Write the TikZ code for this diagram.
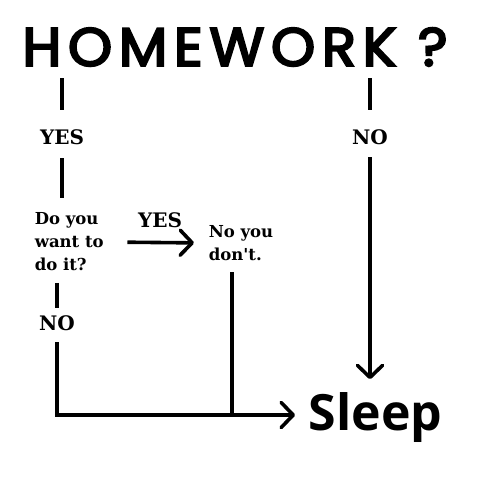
\documentclass[tikz,border=0pt]{standalone}
\usepackage{fontspec}
\usepackage{graphicx}
\usetikzlibrary{arrows.meta}
\newfontfamily\qfont{DejaVu Serif}
\newfontfamily\sleepfont{Open Sans}
\newfontfamily\handfont[LetterSpace=12,FakeBold=4]{Poppins}

\begin{document}
\begin{tikzpicture}[x=1pt, y=-1pt, line width=3.6pt,
  yn/.style={font=\qfont\bfseries\fontsize{20}{24}\selectfont, inner sep=0pt},
  txt/.style={font=\qfont\bfseries\fontsize{16.5}{23}\selectfont, align=left, inner sep=0pt},
  barb/.style={-{Straight Barb[length=12pt,width=25pt,round]}}]
\useasboundingbox[fill=white] (0,0) rectangle (490,504);
% question and answers
\node[inner sep=0pt] (title) at (235,47) {\resizebox{425pt}{38pt}{\handfont HOMEWORK ?}};
\node[yn] (yesL) at (62,137) {YES};
\node[yn] (noR) at (370,137) {NO};
\node[txt, anchor=west] (ask) at (33,242) {Do you\\want to\\do it?};
\node[yn] (yesM) at (160,220) {YES};
\node[txt, anchor=west] (nodont) at (207,243) {No you\\don't.};
\node[yn] (noL) at (57,323) {NO};
\node[font=\sleepfont\bfseries\fontsize{50}{50}\selectfont, inner sep=0pt, anchor=base west] (sleep) at (307,430) {Sleep};
\coordinate (tL) at (62,78);
\coordinate (tR) at (370,78);
\coordinate (join) at (232,415);
\coordinate (tipB) at (295,415);
% connectors
\draw (tL) -- ([yshift=18pt]yesL.north);
\draw (tR) -- ([yshift=18pt]noR.north);
\draw[shorten <=12pt, shorten >=13pt] (yesL.south) -- (yesL.south |- ask.north);
\draw[shorten <=10pt, shorten >=6pt] (noL |- ask.south) -- (noL.north);
\draw[barb, shorten <=10pt] (noL.south) |- (tipB);
\draw[shorten <=10pt] (join |- nodont.south) -- (join);
\draw[barb, shorten <=22pt, shorten >=13pt] (ask.east) -- (nodont.west);
\draw[barb, shorten <=11pt, shorten >=11pt] (noR.south) -- (noR.south |- sleep.north);
\end{tikzpicture}
\end{document}
